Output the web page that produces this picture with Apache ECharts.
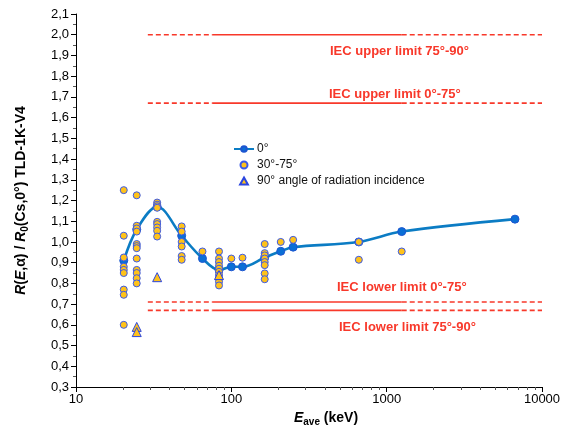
<!DOCTYPE html>
<html>
<head>
<meta charset="utf-8">
<title>TLD-1K-V4 energy response</title>
<style>
  html, body { margin: 0; padding: 0; background: #fff; }
  #main { width: 568px; height: 432px; }
</style>
</head>
<body>
<div id="main"></div>
<script src="https://cdn.jsdelivr.net/npm/echarts@6/dist/echarts.min.js"></script>
<script>
// mean energies (keV) and response for 0 deg
var energy0 = [20.3, 24.6, 33.3, 47.9, 65.2, 83.3, 100, 118, 164, 208, 250, 662, 1250, 6700];
var resp0 = [0.91, 1.06, 1.17, 1.03, 0.92, 0.865, 0.88, 0.88, 0.925, 0.955, 0.975, 1.0, 1.05, 1.11];

// 30-75 deg points, as [energy, response]
var energyMid = [
  20.3, 20.3, 20.3, 20.3, 20.3, 20.3, 20.3, 20.3, 20.3,
  24.6, 24.6, 24.6, 24.6, 24.6, 24.6, 24.6, 24.6, 24.6, 24.6, 24.6, 24.6,
  33.3, 33.3, 33.3, 33.3, 33.3, 33.3, 33.3, 33.3, 33.3,
  47.9, 47.9, 47.9, 47.9, 47.9, 47.9,
  65.2,
  83.3, 83.3, 83.3, 83.3, 83.3, 83.3, 83.3, 83.3, 83.3, 83.3,
  100, 118,
  164, 164, 164, 164, 164, 164, 164, 164,
  208, 250, 662, 662, 1250
];
var respMid = [
  1.25, 1.03, 0.925, 0.88, 0.865, 0.85, 0.77, 0.745, 0.6,
  1.225, 1.078, 1.065, 1.05, 0.99, 0.98, 0.97, 0.92, 0.865, 0.85, 0.825, 0.8,
  1.19, 1.18, 1.172, 1.165, 1.097, 1.086, 1.07, 1.054, 1.026,
  1.075, 1.05, 1.0, 0.978, 0.932, 0.914,
  0.954,
  0.954, 0.92, 0.903, 0.885, 0.871, 0.856, 0.84, 0.824, 0.808, 0.79,
  0.92, 0.924,
  0.99, 0.946, 0.935, 0.92, 0.903, 0.888, 0.848, 0.82,
  1.0, 1.01, 1.0, 0.914, 0.954
];

// 90 deg points
var energy90 = [24.6, 24.6, 33.3, 83.3];
var resp90 = [0.59, 0.565, 0.83, 0.84];

// IEC limits
var limitValues = [2.0, 1.67, 0.71, 0.67];
var limitEnergies = [29, 76, 1250, 10000]; // dashed | solid | dashed
var limitLabels = ['IEC upper limit 75°-90°', 'IEC upper limit 0°-75°', 'IEC lower limit 0°-75°', 'IEC lower limit 75°-90°'];

var yTicks = { min: 0.3, max: 2.1, step: 0.1 };

function pairs(xs, ys) {
  var out = [];
  for (var i = 0; i < xs.length; i++) out.push([xs[i], ys[i]]);
  return out;
}

var red = '#f8382a';
var font = 'Liberation Sans, Arial, sans-serif';

var series = [];
limitValues.forEach(function (v) {
  for (var k = 0; k < 3; k++) {
    series.push({
      type: 'line',
      silent: true,
      symbol: 'none',
      data: [[limitEnergies[k], v], [limitEnergies[k + 1], v]],
      lineStyle: { color: red, width: 1.6, type: k === 1 ? 'solid' : [5, 3] },
      z: 1
    });
  }
});

series.push({
  name: '0°',
  type: 'line',
  smooth: 0.35,
  data: pairs(energy0, resp0),
  symbol: 'circle',
  symbolSize: 8,
  lineStyle: { color: '#0b7cc4', width: 2.6 },
  itemStyle: { color: '#0a6fd6', borderColor: '#1d55d0', borderWidth: 1 },
  z: 3
});
series.push({
  name: '30°-75°',
  type: 'scatter',
  data: pairs(energyMid, respMid),
  symbol: 'circle',
  symbolSize: 7,
  itemStyle: { color: '#ffc21a', borderColor: '#3b5ae8', borderWidth: 1, opacity: 1 },
  z: 4
});
series.push({
  name: '90° angle of radiation incidence',
  type: 'scatter',
  data: pairs(energy90, resp90),
  symbol: 'triangle',
  symbolSize: 9,
  itemStyle: { color: '#ffc21a', borderColor: '#2a45e0', borderWidth: 1, opacity: 1 },
  z: 5
});

var labelPos = [[330, 45], [329, 88], [337, 281], [339, 321]];
var graphics = limitLabels.map(function (t, i) {
  return {
    type: 'text',
    left: labelPos[i][0],
    top: labelPos[i][1],
    style: { text: t, fill: red, font: 'bold 13px ' + font }
  };
});

var option = {
  animation: false,
  backgroundColor: '#fff',
  grid: { left: 76, right: 26, top: 14, bottom: 40 },
  legend: {
    data: [
      { name: '0°' },
      { name: '30°-75°', icon: 'path://M5,0A5,5,0,1,1,5,10A5,5,0,1,1,5,0Z' },
      { name: '90° angle of radiation incidence', icon: 'path://M5,0L10,9L0,9Z' }
    ],
    orient: 'vertical',
    left: 228,
    top: 138,
    itemGap: 4,
    itemWidth: 20,
    itemHeight: 7,
    symbolKeepAspect: true,
    textStyle: { fontFamily: font, fontSize: 12, color: '#111', padding: [0, 0, 0, -2] }
  },
  xAxis: {
    type: 'log',
    logBase: 10,
    min: 10,
    max: 10000,
    axisLine: { lineStyle: { color: '#000', width: 1 } },
    axisTick: { length: 5, lineStyle: { color: '#000' } },
    minorTick: { show: true, splitNumber: 9, length: 3, lineStyle: { color: '#555' } },
    splitLine: { show: false },
    axisLabel: {
      color: '#000', fontFamily: font, fontSize: 13, margin: 6,
      formatter: function (v) { return String(Math.round(v)); }
    },
    name: '{i|E}{s|ave}{n| (keV)}',
    nameLocation: 'middle',
    nameGap: 22,
    nameTextStyle: {
      padding: [0, 0, 0, 34],
      rich: {
        i: { fontFamily: font, fontSize: 14, fontWeight: 'bold', fontStyle: 'italic', color: '#000' },
        s: { fontFamily: font, fontSize: 10, fontWeight: 'bold', color: '#000', padding: [8, 0, 0, 0] },
        n: { fontFamily: font, fontSize: 14, fontWeight: 'bold', color: '#000' }
      }
    }
  },
  yAxis: {
    type: 'value',
    min: yTicks.min,
    max: yTicks.max,
    interval: yTicks.step,
    axisLine: { show: true, lineStyle: { color: '#000', width: 1 } },
    axisTick: { show: true, length: 5, lineStyle: { color: '#000' } },
    minorTick: { show: true, splitNumber: 2, length: 3, lineStyle: { color: '#555' } },
    splitLine: { show: false },
    axisLabel: {
      color: '#000', fontFamily: font, fontSize: 13, margin: 7,
      formatter: function (v) { return v.toFixed(1).replace('.', ','); }
    },
    name: '{i|R}{n|(}{i|E}{n|,α) / }{i|R}{s|0}{n|(Cs,0°) TLD-1K-V4}',
    nameLocation: 'middle',
    nameGap: 46,
    nameTextStyle: {
      rich: {
        i: { fontFamily: font, fontSize: 14, fontWeight: 'bold', fontStyle: 'italic', color: '#000' },
        s: { fontFamily: font, fontSize: 10, fontWeight: 'bold', color: '#000', padding: [8, 0, 0, 0] },
        n: { fontFamily: font, fontSize: 14, fontWeight: 'bold', color: '#000' }
      }
    }
  },
  graphic: graphics,
  series: series
};

var myChart = echarts.init(document.getElementById('main'));
myChart.setOption(option);
</script>
</body>
</html>
